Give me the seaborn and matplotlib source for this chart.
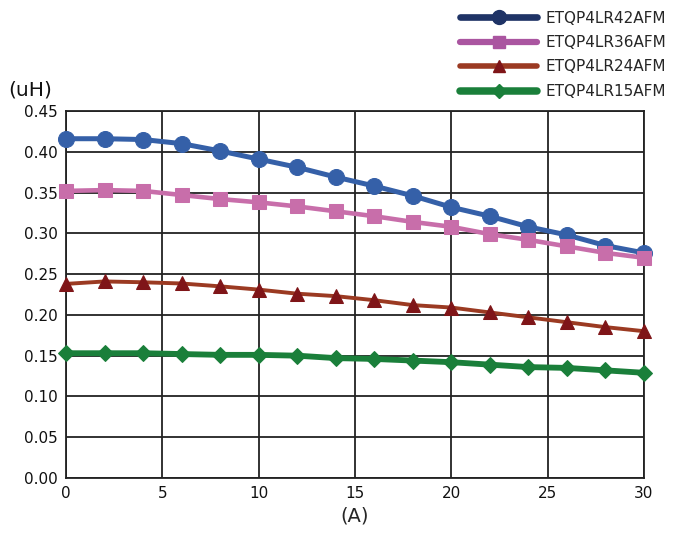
import matplotlib
matplotlib.use("Agg")
import matplotlib.pyplot as plt
from matplotlib.lines import Line2D
import pandas as pd
import seaborn as sns

# current (A), every 2 A
current = [0, 2, 4, 6, 8, 10, 12, 14, 16, 18, 20, 22, 24, 26, 28, 30]

# inductance (uH)
l42 = [0.416, 0.416, 0.415, 0.410, 0.401, 0.391, 0.381, 0.369,
       0.358, 0.346, 0.332, 0.321, 0.308, 0.298, 0.285, 0.276]
l36 = [0.352, 0.353, 0.352, 0.347, 0.342, 0.338, 0.333, 0.327,
       0.321, 0.314, 0.308, 0.299, 0.292, 0.284, 0.276, 0.270]
l24 = [0.238, 0.241, 0.240, 0.2385, 0.235, 0.231, 0.226, 0.223,
       0.218, 0.212, 0.209, 0.203, 0.197, 0.191, 0.185, 0.180]
l15 = [0.153, 0.153, 0.153, 0.152, 0.151, 0.151, 0.150, 0.147,
       0.146, 0.144, 0.142, 0.139, 0.136, 0.135, 0.132, 0.129]

parts = ["ETQP4LR42AFM", "ETQP4LR36AFM", "ETQP4LR24AFM", "ETQP4LR15AFM"]

sns.set_style("white")
plt.rcParams['font.family'] = ['DejaVu Sans']

fig = plt.figure(figsize=(6.75, 5.38), dpi=100)
ax = fig.add_axes([0.0978, 0.1115, 0.8562, 0.6822])

# line colour, marker colour, marker, line width, marker size, legend colour
styles = [
    ("#3560a8", "#3560a8", "o", 3.6, 11.5, "#1f3366"),
    ("#c86eaa", "#c86eaa", "s", 3.3, 10, "#aa55a0"),
    ("#9b3a22", "#7f1518", "^", 2.8, 10, "#9b3a22"),
    ("#1a7f3a", "#1a7f3a", "D", 4.2, 8.5, "#1a7f3a"),
]

for vals, (lc, mc, mk, lw, ms, _) in zip([l42, l36, l24, l15], styles):
    df = pd.DataFrame({"A": current, "uH": vals})
    sns.lineplot(data=df, x="A", y="uH", ax=ax, color=lc, linewidth=lw,
                 marker=mk, markersize=ms, markerfacecolor=mc,
                 markeredgecolor=mc, clip_on=False, zorder=3)

ax.set_xlim(0, 30)
ax.set_ylim(0, 0.45)
ax.set_xticks([0, 5, 10, 15, 20, 25, 30])
ax.set_yticks([i * 0.05 for i in range(10)])
ax.set_yticklabels([f"{i * 0.05:.2f}" for i in range(10)])
ax.grid(True, color="#222222", linewidth=1.3)
for s in ax.spines.values():
    s.set_color("#222222")
    s.set_linewidth(1.3)
ax.tick_params(length=0, labelsize=11, colors="#111111", pad=6)
ax.set_xlabel("(A)", fontsize=14, labelpad=4)
ax.set_ylabel("")
fig.text(0.012, 0.822, "(uH)", fontsize=14.5, color="#111111")

# legend sits above the plot, top right
handles = [Line2D([0], [0], color=lg, linewidth=lw + 1.2, marker=mk,
                  markersize=ms - 1.5, markerfacecolor=lg if i != 2 else mc,
                  markeredgecolor=lg if i != 2 else mc, solid_capstyle="round")
           for i, (lc, mc, mk, lw, ms, lg) in enumerate(styles)]
fig.legend(handles, parts, loc="upper right", bbox_to_anchor=(1.008, 1.006),
           frameon=False, fontsize=11, handlelength=5.0, numpoints=1,
           labelspacing=0.62, handletextpad=0.6)

plt.savefig("out.png", dpi=100)
